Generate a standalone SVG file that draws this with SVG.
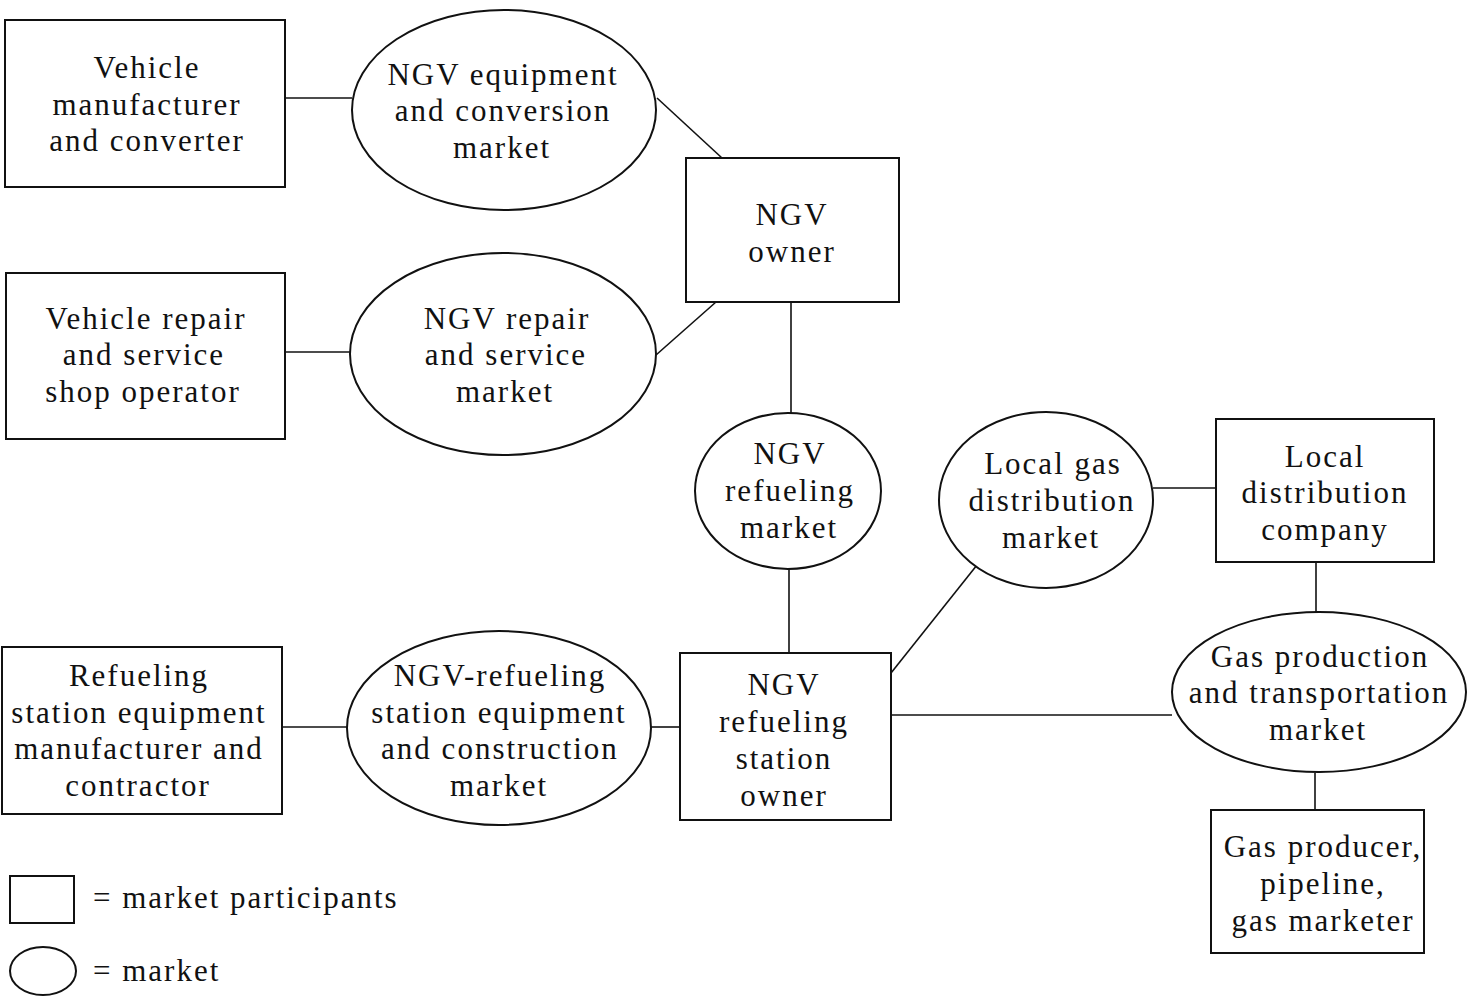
<svg xmlns="http://www.w3.org/2000/svg" width="1480" height="996" viewBox="0 0 1480 996">
<style>
.n{fill:#fff;stroke:#111;stroke-width:2}
.c line{stroke:#111;stroke-width:1.6}
text{font-family:"Liberation Serif","Times New Roman",serif;font-size:31px;fill:#111;text-anchor:middle;letter-spacing:2px}
.l{text-anchor:start}
</style>
<rect width="1480" height="996" fill="#fff"/>
<g class="c" id="connectors">
<line x1="285" y1="98" x2="352" y2="98"/>
<line x1="657" y1="98" x2="722" y2="158"/>
<line x1="285" y1="352" x2="350" y2="352"/>
<line x1="656" y1="355" x2="716" y2="302"/>
<line x1="791" y1="302" x2="791" y2="413"/>
<line x1="789" y1="569" x2="789" y2="653"/>
<line x1="282" y1="727" x2="347" y2="727"/>
<line x1="651" y1="727" x2="680" y2="727"/>
<line x1="891" y1="673" x2="977" y2="565"/>
<line x1="1153" y1="488" x2="1216" y2="488"/>
<line x1="1316" y1="562" x2="1316" y2="612"/>
<line x1="891" y1="715" x2="1172" y2="715"/>
<line x1="1315" y1="773" x2="1315" y2="810"/>
</g>
<g id="vehicle-manufacturer">
<rect class="n" x="5" y="20" width="280" height="167"/>
<text x="147" y="78">Vehicle</text>
<text x="147" y="115">manufacturer</text>
<text x="147" y="151">and converter</text>
</g>
<g id="ngv-equipment-market">
<ellipse class="n" cx="504" cy="110" rx="152" ry="100"/>
<text x="503" y="85">NGV equipment</text>
<text x="503" y="121">and conversion</text>
<text x="502" y="158">market</text>
</g>
<g id="ngv-owner">
<rect class="n" x="686" y="158" width="213" height="144"/>
<text x="792" y="225">NGV</text>
<text x="792" y="262">owner</text>
</g>
<g id="vehicle-repair">
<rect class="n" x="6" y="273" width="279" height="166"/>
<text x="146" y="329">Vehicle repair</text>
<text x="144" y="365">and service</text>
<text x="143" y="402">shop operator</text>
</g>
<g id="ngv-repair-market">
<ellipse class="n" cx="503" cy="354" rx="153" ry="101"/>
<text x="507" y="329">NGV repair</text>
<text x="506" y="365">and service</text>
<text x="505" y="402">market</text>
</g>
<g id="ngv-refueling-market">
<ellipse class="n" cx="788" cy="491" rx="93" ry="78"/>
<text x="790" y="464">NGV</text>
<text x="790" y="501">refueling</text>
<text x="789" y="538">market</text>
</g>
<g id="local-gas-market">
<ellipse class="n" cx="1046" cy="500" rx="107" ry="88"/>
<text x="1053" y="474">Local gas</text>
<text x="1052" y="511">distribution</text>
<text x="1051" y="548">market</text>
</g>
<g id="ldc">
<rect class="n" x="1216" y="419" width="218" height="143"/>
<text x="1325" y="467">Local</text>
<text x="1325" y="503">distribution</text>
<text x="1325" y="540">company</text>
</g>
<g id="refueling-equipment-manufacturer">
<rect class="n" x="2" y="647" width="280" height="167"/>
<text x="139" y="686">Refueling</text>
<text x="139" y="723">station equipment</text>
<text x="139" y="759">manufacturer and</text>
<text x="138" y="796">contractor</text>
</g>
<g id="station-equipment-market">
<ellipse class="n" cx="499" cy="728" rx="152" ry="97"/>
<text x="500" y="686">NGV-refueling</text>
<text x="499" y="723">station equipment</text>
<text x="500" y="759">and construction</text>
<text x="499" y="796">market</text>
</g>
<g id="station-owner">
<rect class="n" x="680" y="653" width="211" height="167"/>
<text x="784" y="695">NGV</text>
<text x="784" y="732">refueling</text>
<text x="784" y="769">station</text>
<text x="784" y="806">owner</text>
</g>
<g id="gas-production-market">
<ellipse class="n" cx="1319" cy="692" rx="147" ry="80"/>
<text x="1320" y="667">Gas production</text>
<text x="1319" y="703">and transportation</text>
<text x="1318" y="740">market</text>
</g>
<g id="gas-producer">
<rect class="n" x="1211" y="810" width="213" height="143"/>
<text x="1323" y="857">Gas producer,</text>
<text x="1323" y="894">pipeline,</text>
<text x="1323" y="931">gas marketer</text>
</g>
<g id="legend">
<rect class="n" x="10" y="876" width="64" height="47"/>
<text class="l" x="93" y="908">= market participants</text>
<ellipse class="n" cx="43" cy="971" rx="33" ry="24"/>
<text class="l" x="93" y="981">= market</text>
</g>
</svg>
